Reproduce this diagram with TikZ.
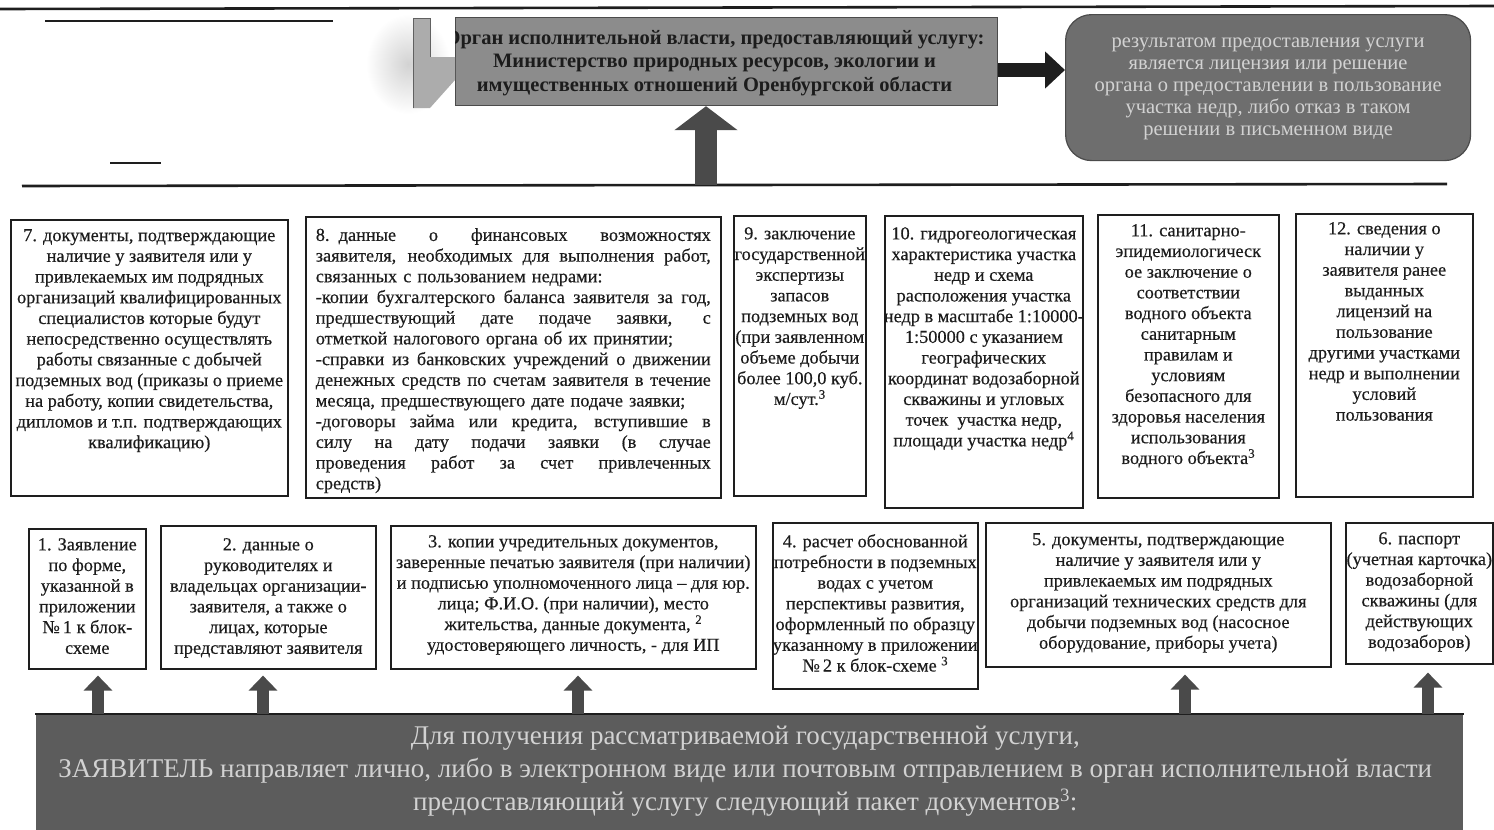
\documentclass[tikz,border=0pt]{standalone}
\usepackage{fontspec}
\setmainfont{Liberation Serif}
\newfontfamily\scanfont{Liberation Serif}[FakeBold=0.4]
\usetikzlibrary{arrows.meta,calc}
\definecolor{inkc}{HTML}{1C1C1C}
\definecolor{linec}{HTML}{1E1E1E}
\definecolor{topfill}{HTML}{8C8C8C}
\definecolor{resfill}{HTML}{6E6E6E}
\definecolor{botfill}{HTML}{5C5C5C}
\definecolor{arrc}{HTML}{4A4A4A}
\definecolor{lighttext}{HTML}{D2D2D2}
\newcommand{\jline}[1]{\leavevmode\hbox to 395pt{\spaceskip=0.25em plus 1fil\relax #1}}
\begin{document}
\begin{tikzpicture}[x=1pt,y=-1pt,
  box/.style={draw=linec, line width=1.6pt, inner sep=0pt, anchor=north west},
  txt/.style={font=\scanfont\fontsize{18.3}{20.7}\selectfont, align=center, inner sep=0pt, anchor=north, text=inkc},
  hline/.style={draw=linec, line width=2.6pt},
  uparr/.style={draw=arrc, line width=12pt, -{Triangle[width=28pt,length=15pt]}}
]
\useasboundingbox (0,0) rectangle (1494,830);

% decorative rules
\draw[hline] (0,9) -- (1494,6);
\draw[hline, line width=2pt] (45,21) -- (333,21);
\draw[hline] (110,163) -- (161,163);
\draw[hline] (22,186) -- (1447,184);

% top: authority box
\node[box, draw=linec!80, line width=1.2pt, fill=topfill, minimum width=542, minimum height=88] (org) at (455,17) {};
\begin{scope}
\clip (org.north west) rectangle (org.south east);
\node[txt, font=\bfseries\fontsize{20.5}{23.5}\selectfont, text=inkc] (orgt) at ($(org.north)+(-12,13)$)
  {Орган исполнительной власти, предоставляющий услугу:\\
   Министерство природных ресурсов, экологии и\\
   имущественных отношений Оренбургской области};
\end{scope}

% shadow-like shape at the left of the authority box
\shade[inner color=gray!35, outer color=white] (408,64) ellipse (42 and 50);
\fill[gray!65] (413,18) -- (430,18) -- (430,57) -- (455,57) -- (455,80) -- (430,108) -- (413,108) -- cycle;
\draw[linec!70, line width=1pt] (413,108) -- (413,18) -- (430,18) -- (430,57);

% result box
\node[box, draw=linec!80, line width=1.2pt, fill=resfill, rounded corners=26pt, minimum width=405, minimum height=146] (res) at (1065,14) {};
\node[txt, text=lighttext, font=\fontsize{20.5}{22}\selectfont] (rest) at ($(res.north)+(0,24)$)
  {результатом предоставления услуги\\
   является лицензия или решение\\
   органа о предоставлении в пользование\\
   участка недр, либо отказ в таком\\
   решении в письменном виде};

\draw[draw=linec, line width=14pt, -{Triangle[width=36pt,length=20pt]}] (org.east |- 0,70) -- (res.west |- 0,70);

\coordinate (bigfoot) at (706,185);
\draw[draw=arrc, line width=22pt, -{Triangle[width=62pt,length=24pt]}] (bigfoot) -- (org.south -| bigfoot);

% row of boxes 7-12
\node[box, minimum width=277, minimum height=276] (b7) at (10,219) {};
\node[txt] (t7) at ($(b7.north)+(0,10)$)
  {7. документы, подтверждающие\\
   наличие у заявителя или у\\
   привлекаемых им подрядных\\
   организаций квалифицированных\\
   специалистов которые будут\\
   непосредственно осуществлять\\
   работы связанные с добычей\\
   подземных вод (приказы о приеме\\
   на работу, копии свидетельства,\\
   дипломов и т.п. подтверждающих\\
   квалификацию)};

\node[box, minimum width=415, minimum height=281] (b8) at (305,216) {};
\node[txt, text width=395, align=left] (t8) at ($(b8.north)+(0,12)$)
  {\jline{8. данные о финансовых возможностях}\\
   \jline{заявителя, необходимых для выполнения работ,}\\
   связанных с пользованием недрами:\\
   \jline{-копии бухгалтерского баланса заявителя за год,}\\
   \jline{предшествующий дате подаче заявки, с}\\
   отметкой налогового органа об их принятии;\\
   \jline{-справки из банковских учреждений о движении}\\
   \jline{денежных средств по счетам заявителя в течение}\\
   месяца, предшествующего дате подаче заявки;\\
   \jline{-договоры займа или кредита, вступившие в}\\
   \jline{силу на дату подачи заявки (в случае}\\
   \jline{проведения работ за счет привлеченных}\\
   средств)};

\node[box, minimum width=132, minimum height=280] (b9) at (733,215) {};
\node[txt] (t9) at ($(b9.north)+(0,12)$)
  {9. заключение\\
   государственной\\
   экспертизы\\
   запасов\\
   подземных вод\\
   (при заявленном\\
   объеме добычи\\
   более 100,0 куб.\\
   м/сут.\textsuperscript{3}};

\node[box, minimum width=198, minimum height=292] (b10) at (884,215) {};
\node[txt] (t10) at ($(b10.north)+(0,12)$)
  {10. гидрогеологическая\\
   характеристика участка\\
   недр и схема\\
   расположения участка\\
   недр в масштабе 1:10000-\\
   1:50000 с указанием\\
   географических\\
   координат водозаборной\\
   скважины и угловых\\
   точек \ участка недр,\\
   площади участка недр\textsuperscript{4}};

\node[box, minimum width=181, minimum height=283] (b11) at (1097,214) {};
\node[txt] (t11) at ($(b11.north)+(0,10)$)
  {11. санитарно-\\
   эпидемиологическ\\
   ое заключение о\\
   соответствии\\
   водного объекта\\
   санитарным\\
   правилам и\\
   условиям\\
   безопасного для\\
   здоровья населения\\
   использования\\
   водного объекта\textsuperscript{3}};

\node[box, minimum width=177, minimum height=283] (b12) at (1295,213) {};
\node[txt] (t12) at ($(b12.north)+(0,9)$)
  {12. сведения о\\
   наличии у\\
   заявителя ранее\\
   выданных\\
   лицензий на\\
   пользование\\
   другими участками\\
   недр и выполнении\\
   условий\\
   пользования};

% row of boxes 1-6
\node[box, minimum width=117, minimum height=140] (b1) at (28,528) {};
\node[txt] (t1) at ($(b1.north)+(0,10)$)
  {1. Заявление\\
   по форме,\\
   указанной в\\
   приложении\\
   №\,1 к блок-\\
   схеме};

\node[box, minimum width=215, minimum height=143] (b2) at (160,525) {};
\node[txt] (t2) at ($(b2.north)+(0,13)$)
  {2. данные о\\
   руководителях и\\
   владельцах организации-\\
   заявителя, а также о\\
   лицах, которые\\
   представляют заявителя};

\node[box, minimum width=365, minimum height=143] (b3) at (390,525) {};
\node[txt] (t3) at ($(b3.north)+(0,10)$)
  {3. копии учредительных документов,\\
   заверенные печатью заявителя (при наличии)\\
   и подписью уполномоченного лица – для юр.\\
   лица; Ф.И.О. (при наличии), место\\
   жительства, данные документа, \textsuperscript{2}\\
   удостоверяющего личность, - для ИП};

\node[box, minimum width=205, minimum height=166] (b4) at (772,522) {};
\node[txt] (t4) at ($(b4.north)+(0,12)$)
  {4. расчет обоснованной\\
   потребности в подземных\\
   водах с учетом\\
   перспективы развития,\\
   оформленный по образцу\\
   указанному в приложении\\
   №\,2 к блок-схеме \textsuperscript{3}};

\node[box, minimum width=345, minimum height=144] (b5) at (985,522) {};
\node[txt] (t5) at ($(b5.north)+(0,11)$)
  {5. документы, подтверждающие\\
   наличие у заявителя или у\\
   привлекаемых им подрядных\\
   организаций технических средств для\\
   добычи подземных вод (насосное\\
   оборудование, приборы учета)};

\node[box, minimum width=147, minimum height=141] (b6) at (1345,522) {};
\node[txt] (t6) at ($(b6.north)+(0,10)$)
  {6. паспорт\\
   (учетная карточка)\\
   водозаборной\\
   скважины (для\\
   действующих\\
   водозаборов)};

% bottom box
\node[box, draw=none, fill=botfill, minimum width=1427, minimum height=120] (bot) at (35,714) {};
\draw[linec, line width=1.5pt] (bot.north west) -- (bot.north east);
\node[txt, text=lighttext, font=\fontsize{27}{33}\selectfont] (bott) at ($(bot.north)+(-4,12)$)
  {Для получения рассматриваемой государственной услуги,\\
   ЗАЯВИТЕЛЬ направляет лично, либо в электронном виде или почтовым отправлением в орган исполнительной власти\\
   предоставляющий услугу следующий пакет документов\textsuperscript{3}:};

% arrows from the bottom box up to the documents
\coordinate (a1) at (98,0);
\coordinate (a2) at (263,0);
\coordinate (a3) at (578,0);
\coordinate (a5) at (1185,0);
\coordinate (a6) at (1428,0);
\draw[uparr] (bot.north -| a1) -- ($(b1.south -| a1)+(0,6)$);
\draw[uparr] (bot.north -| a2) -- ($(b2.south -| a2)+(0,6)$);
\draw[uparr] (bot.north -| a3) -- ($(b3.south -| a3)+(0,6)$);
\draw[uparr] (bot.north -| a5) -- ($(b5.south -| a5)+(0,7)$);
\draw[uparr] (bot.north -| a6) -- ($(b6.south -| a6)+(0,8)$);
\end{tikzpicture}
\end{document}
